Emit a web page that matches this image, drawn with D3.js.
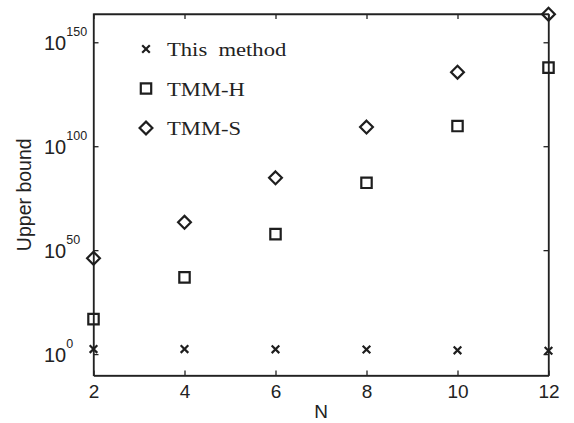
<!DOCTYPE html>
<html>
<head>
<meta charset="utf-8">
<script src="https://cdn.jsdelivr.net/npm/d3@7"></script>
<style>
  body { margin: 0; background: #fff; }
  svg { display: block; }
  .axis path, .axis line { stroke: #222; stroke-width: 1.3; }
  .tick text { font-family: "Liberation Sans", Arial, sans-serif; fill: #222; }
</style>
</head>
<body>
<svg class="chart"></svg>
<script>
/* global d3 */

// Data
var nValues = [2, 4, 6, 8, 10, 12];
var seriesNames = ["This  method", "TMM-H", "TMM-S"];
var thisMethod = [251, 251, 200, 158, 63, 40];
var tmmH = [6.3e16, 7.9e36, 5.0e57, 2.5e82, 5.0e109, 6.3e137];
var tmmS = [1.26e46, 2.5e63, 6.3e84, 1.6e109, 4.0e135, 3.2e163];
var xTicks = [2, 4, 6, 8, 10, 12];
var yTicks = [1, 1e50, 1e100, 1e150];
var yTickExp = ["0", "50", "100", "150"];

var chartW = 574, chartH = 423;
var plotL = 93.5, plotR = 548.5, plotT = 14, plotB = 375.5;
var ink = "#1e1e1e";

var svg = d3.select(".chart")
    .attr("width", chartW)
    .attr("height", chartH);

// Scales
var x = d3.scaleLinear().domain([2, 12]).range([plotL, plotR]);
var y = d3.scaleLog().domain([5e-11, 4e163]).range([plotB, plotT]);

// Axes, ticks pointing inwards on all four sides
svg.append("g")
    .attr("class", "axis")
    .attr("transform", "translate(0," + plotB + ")")
    .call(d3.axisBottom(x).tickValues(xTicks).tickSizeInner(-5).tickSizeOuter(0).tickPadding(9))
    .selectAll("text").style("font-size", "19px");

svg.append("g")
    .attr("class", "axis")
    .attr("transform", "translate(0," + plotT + ")")
    .call(d3.axisTop(x).tickValues(xTicks).tickSizeInner(-5).tickSizeOuter(0).tickFormat(""));

svg.append("g")
    .attr("class", "axis")
    .attr("transform", "translate(" + plotL + ",0)")
    .call(d3.axisLeft(y).tickValues(yTicks).tickSizeInner(-5).tickSizeOuter(0).tickFormat(""));

svg.append("g")
    .attr("class", "axis")
    .attr("transform", "translate(" + plotR + ",0)")
    .call(d3.axisRight(y).tickValues(yTicks).tickSizeInner(-5).tickSizeOuter(0).tickFormat(""));

// frame
svg.append("rect")
    .attr("x", plotL).attr("y", plotT)
    .attr("width", plotR - plotL).attr("height", plotB - plotT)
    .attr("fill", "none").attr("stroke", "#222").attr("stroke-width", 1.3);

// y tick labels: 10 with superscript, left aligned
var ylab = svg.selectAll(".ylab")
    .data(yTicks)
  .enter().append("text")
    .attr("class", "ylab")
    .attr("x", 44)
    .attr("y", function(d) { return y(d) + 8; })
    .style("font-family", "'Liberation Sans', Arial, sans-serif")
    .style("font-size", "20px")
    .attr("fill", "#222");
ylab.append("tspan").text("10");
ylab.append("tspan")
    .attr("dy", -14)
    .style("font-size", "12.5px")
    .text(function(d, i) { return yTickExp[i]; });

// axis titles
svg.append("text")
    .attr("x", (plotL + plotR) / 2)
    .attr("y", 418)
    .attr("text-anchor", "middle")
    .style("font-family", "'Liberation Sans', Arial, sans-serif")
    .style("font-size", "19px")
    .attr("fill", "#222")
    .text("N");

svg.append("text")
    .attr("transform", "translate(31," + ((plotT + plotB) / 2) + ") rotate(-90)")
    .attr("text-anchor", "middle")
    .style("font-family", "'Liberation Sans', Arial, sans-serif")
    .style("font-size", "19.5px")
    .attr("fill", "#222")
    .text("Upper bound");

// marker shapes
function markX(s) { return "M" + (-s) + "," + (-s) + "L" + s + "," + s + "M" + (-s) + "," + s + "L" + s + "," + (-s); }
function markSquare(s) { return "M" + (-s) + "," + (-s) + "H" + s + "V" + s + "H" + (-s) + "Z"; }
function markDiamond(s) { return "M0," + (-s) + "L" + s + ",0L0," + s + "L" + (-s) + ",0Z"; }

var shapes = [
    function() { return markX(3.8); },
    function() { return markSquare(5.2); },
    function() { return markDiamond(6.4); }
];
var allSeries = [thisMethod, tmmH, tmmS];

allSeries.forEach(function(vals, k) {
    svg.selectAll(".m" + k)
        .data(vals)
      .enter().append("path")
        .attr("class", "m" + k)
        .attr("transform", function(d, i) { return "translate(" + x(nValues[i]) + "," + y(d) + ")"; })
        .attr("d", shapes[k])
        .attr("fill", "none")
        .attr("stroke", ink)
        .attr("stroke-width", 2.2);
});

// legend
var legend = svg.selectAll(".legend")
    .data(seriesNames)
  .enter().append("g")
    .attr("class", "legend")
    .attr("transform", function(d, i) { return "translate(146," + (49 + i * 39.5) + ")"; });

legend.append("path")
    .attr("d", function(d, i) { return shapes[i](); })
    .attr("fill", "none")
    .attr("stroke", ink)
    .attr("stroke-width", 2.2);

legend.append("text")
    .attr("transform", "translate(21,7) scale(1.19,1)")
    .style("font-family", "'Liberation Serif', 'Times New Roman', serif")
    .style("font-size", "19px")
    .style("white-space", "pre")
    .attr("fill", "#222")
    .text(function(d) { return d; });
</script>
</body>
</html>
